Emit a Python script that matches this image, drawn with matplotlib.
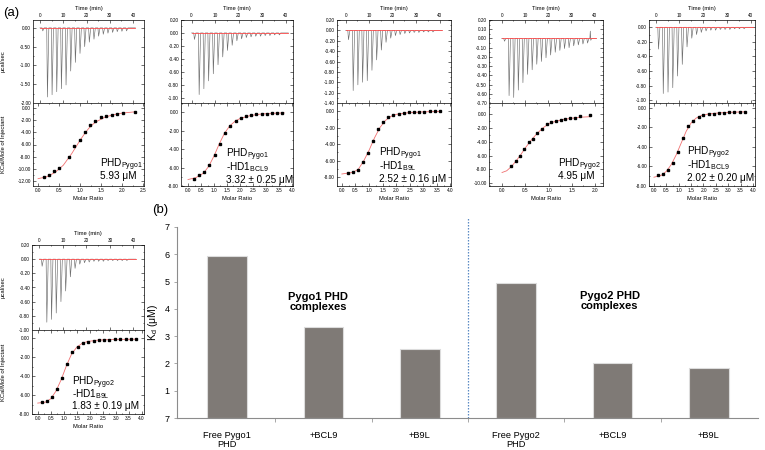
import matplotlib
matplotlib.use("Agg")
import matplotlib.pyplot as plt
from matplotlib.ticker import MultipleLocator, AutoMinorLocator, FormatStrFormatter

plt.rcParams.update({"font.family": "Liberation Sans", "axes.unicode_minus": False,
                     "mathtext.fontset": "custom", "mathtext.rm": "Liberation Sans",
                     "mathtext.it": "Liberation Sans:italic", "mathtext.bf": "Liberation Sans:bold"})

W, H = 765, 450

# ---------------- data: ITC raw traces (peak heights, ucal/sec) ----------------
inj_times = [1, 3, 5, 7, 9, 11, 13, 15, 17, 19, 21, 23, 25, 27, 29, 31, 33, 35, 37]
time_span = [0, 41]

raw1 = [-0.08, -1.84, -1.78, -1.70, -1.62, -1.52, -1.15, -0.92, -0.68, -0.50, -0.38, -0.30, -0.22, -0.17, -0.14, -0.12, -0.10, -0.09, -0.08]
raw2 = [-0.10, -0.95, -0.86, -0.74, -0.63, -0.49, -0.37, -0.27, -0.19, -0.12, -0.09, -0.07, -0.06, -0.05, -0.05, -0.04, -0.04, -0.03, -0.03]
raw3 = [-0.18, -1.16, -1.05, -1.00, -0.97, -0.77, -0.57, -0.38, -0.23, -0.15, -0.10, -0.08, -0.06, -0.05, -0.04, -0.04, -0.03, -0.03, -0.03]
raw4 = [-0.03, -0.62, -0.64, -0.56, -0.48, -0.39, -0.34, -0.28, -0.25, -0.21, -0.18, -0.15, -0.13, -0.11, -0.10, -0.08, -0.07, -0.06, -0.05]
raw5 = [-0.30, -0.91, -0.89, -0.83, -0.67, -0.51, -0.27, -0.15, -0.10, -0.07, -0.05, -0.04, -0.04, -0.03, -0.03, -0.03, -0.02, -0.02, -0.02]
raw6 = [-0.10, -0.89, -0.85, -0.76, -0.60, -0.45, -0.25, -0.13, -0.07, -0.05, -0.04, -0.03, -0.03, -0.03, -0.02, -0.02, -0.02, -0.02, -0.02]
blip4_time = [38.3]
blip4_height = [0.08]

# ---------------- data: integrated heats (kcal/mol) and fits ----------------
ratio1 = [0.13, 0.27, 0.39, 0.50, 0.74, 0.86, 0.99, 1.12, 1.24, 1.36, 1.49, 1.62, 1.75, 1.88, 2.01, 2.30]
heat1 = [-11.4, -11.0, -10.4, -9.9, -8.0, -6.3, -5.2, -4.0, -2.8, -2.2, -1.5, -1.3, -1.2, -1.0, -0.9, -0.6]
fit1_x = [0.0, 0.2, 0.4, 0.6, 0.8, 0.9, 1.0, 1.1, 1.2, 1.3, 1.4, 1.6, 1.8, 2.0, 2.3]
fit1_y = [-11.6, -11.3, -10.6, -9.4, -7.5, -6.4, -5.3, -4.3, -3.4, -2.7, -2.2, -1.5, -1.1, -0.85, -0.65]

ratio2 = [0.22, 0.42, 0.62, 0.82, 1.02, 1.22, 1.42, 1.63, 1.83, 2.03, 2.23, 2.43, 2.63, 2.83, 3.03, 3.23, 3.43, 3.63]
heat2 = [-7.2, -6.85, -6.5, -5.7, -4.65, -3.4, -2.2, -1.5, -0.9, -0.62, -0.46, -0.33, -0.22, -0.18, -0.14, -0.11, -0.08, -0.07]
fit2_x = [0.0, 0.3, 0.6, 0.8, 1.0, 1.2, 1.4, 1.6, 1.8, 2.0, 2.4, 2.8, 3.2, 3.7]
fit2_y = [-7.3, -7.1, -6.6, -5.85, -4.75, -3.45, -2.3, -1.5, -1.0, -0.68, -0.36, -0.2, -0.12, -0.07]

ratio3 = [0.22, 0.40, 0.58, 0.77, 0.95, 1.14, 1.33, 1.52, 1.71, 1.90, 2.09, 2.28, 2.47, 2.66, 2.85, 3.04, 3.23, 3.42, 3.61]
heat3 = [-7.5, -7.35, -7.1, -6.15, -5.05, -3.65, -2.15, -1.3, -0.7, -0.42, -0.3, -0.22, -0.17, -0.13, -0.1, -0.07, -0.05, -0.04, -0.03]
fit3_x = [0.0, 0.4, 0.6, 0.8, 1.0, 1.2, 1.4, 1.6, 1.8, 2.0, 2.4, 3.0, 3.6]
fit3_y = [-7.6, -7.4, -7.05, -6.05, -4.75, -3.25, -2.0, -1.15, -0.65, -0.4, -0.22, -0.1, -0.05]

ratio4 = [0.19, 0.29, 0.38, 0.48, 0.57, 0.67, 0.76, 0.86, 0.96, 1.05, 1.16, 1.26, 1.36, 1.46, 1.56, 1.67, 1.88]
heat4 = [-7.5, -6.8, -6.1, -5.0, -4.1, -3.6, -2.7, -2.2, -1.5, -1.1, -1.0, -0.85, -0.7, -0.6, -0.5, -0.3, -0.15]
fit4_x = [0.0, 0.1, 0.2, 0.3, 0.4, 0.5, 0.6, 0.7, 0.8, 0.9, 1.0, 1.1, 1.3, 1.5, 1.7, 1.9]
fit4_y = [-8.45, -8.2, -7.6, -6.8, -5.9, -4.9, -4.0, -3.2, -2.5, -1.9, -1.45, -1.15, -0.8, -0.6, -0.45, -0.38]

ratio5 = [0.15, 0.35, 0.55, 0.75, 0.97, 1.17, 1.37, 1.58, 1.80, 2.00, 2.21, 2.42, 2.63, 2.83, 3.05, 3.25, 3.46, 3.68]
heat5 = [-6.9, -6.8, -6.35, -5.6, -4.5, -3.1, -1.9, -1.3, -0.95, -0.75, -0.65, -0.58, -0.53, -0.5, -0.47, -0.44, -0.42, -0.4]
fit5_x = [0.0, 0.3, 0.5, 0.7, 0.9, 1.1, 1.3, 1.5, 1.7, 1.9, 2.2, 2.6, 3.0, 3.7]
fit5_y = [-7.1, -6.9, -6.5, -5.8, -4.8, -3.6, -2.4, -1.55, -1.05, -0.8, -0.62, -0.52, -0.46, -0.4]

ratio6 = [0.18, 0.37, 0.54, 0.73, 0.92, 1.12, 1.33, 1.54, 1.74, 1.95, 2.15, 2.36, 2.56, 2.76, 2.97, 3.18, 3.38, 3.59, 3.78]
heat6 = [-6.75, -6.65, -6.2, -5.35, -4.2, -2.7, -1.5, -0.9, -0.56, -0.4, -0.32, -0.25, -0.21, -0.18, -0.15, -0.14, -0.13, -0.13, -0.13]
fit6_x = [0.0, 0.3, 0.5, 0.7, 0.9, 1.1, 1.3, 1.5, 1.7, 1.9, 2.3, 2.8, 3.8]
fit6_y = [-6.85, -6.75, -6.4, -5.6, -4.4, -2.95, -1.7, -0.97, -0.57, -0.37, -0.22, -0.15, -0.12]

notes1 = [r"PHD$_{\mathrm{Pygo1}}$", "5.93 μM"]
notes2 = [r"PHD$_{\mathrm{Pygo1}}$", r"-HD1$_{\mathrm{BCL9}}$", "3.32 ± 0.25 μM"]
notes3 = [r"PHD$_{\mathrm{Pygo1}}$", r"-HD1$_{\mathrm{B9L}}$", "2.52 ± 0.16 μM"]
notes4 = [r"PHD$_{\mathrm{Pygo2}}$", "4.95 μM"]
notes5 = [r"PHD$_{\mathrm{Pygo2}}$", r"-HD1$_{\mathrm{BCL9}}$", "2.02 ± 0.20 μM"]
notes6 = [r"PHD$_{\mathrm{Pygo2}}$", r"-HD1$_{\mathrm{B9L}}$", "1.83 ± 0.19 μM"]

# ---------------- data: Kd bar chart ----------------
kd_categories = ["Free Pygo1\nPHD", "+BCL9", "+B9L", "Free Pygo2\nPHD", "+BCL9", "+B9L"]
kd_values = [5.93, 3.32, 2.52, 4.95, 2.02, 1.83]
kd_ticks = [0, 1, 2, 3, 4, 5, 6, 7]
kd_ticklabels = ["7", "1", "2", "3", "4", "5", "6", "7"]
group_labels = ["Pygo1 PHD\ncomplexes", "Pygo2 PHD\ncomplexes"]

# ---------------- layout (pixels) ----------------
panels = [
    dict(raw=raw1, ratio=ratio1, heat=heat1, fx=fit1_x, fy=fit1_y, notes=notes1,
         box=(33, 144, 20, 103, 186), raw_ylim=(-2.0, 0.21), raw_step=0.5, heat_ylim=(-12.8, 0.8),
         ratio_xlim=(-0.12, 2.52), time_xlim=(-3, 44.7), note_x=100, note_base=[167, 179], ylabels=True),
    dict(raw=raw2, ratio=ratio2, heat=heat2, fx=fit2_x, fy=fit2_y, notes=notes2,
         box=(181, 293, 20, 103, 186), raw_ylim=(-1.08, 0.2), raw_step=0.2, heat_ylim=(-8.0, 1.0),
         ratio_xlim=(-0.27, 4.04), time_xlim=(-4.5, 43), note_x=226, note_base=[157, 170, 183], ylabels=False),
    dict(raw=raw3, ratio=ratio3, heat=heat3, fx=fit3_x, fy=fit3_y, notes=notes3,
         box=(337, 451, 20, 103, 186), raw_ylim=(-1.4, 0.2), raw_step=0.2, heat_ylim=(-9.05, 0.97),
         ratio_xlim=(-0.18, 4.02), time_xlim=(-3.7, 44.9), note_x=379, note_base=[156, 169, 182], ylabels=False),
    dict(raw=raw4, ratio=ratio4, heat=heat4, fx=fit4_x, fy=fit4_y, notes=notes4,
         box=(489, 603, 20, 103, 186), raw_ylim=(-0.7, 0.2), raw_step=0.1, heat_ylim=(-10.4, 1.6),
         ratio_xlim=(-0.28, 2.17), time_xlim=(-5.5, 43.9), note_x=558, note_base=[167, 179], ylabels=False),
    dict(raw=raw5, ratio=ratio5, heat=heat5, fx=fit5_x, fy=fit5_y, notes=notes5,
         box=(649, 755, 20, 103, 186), raw_ylim=(-1.04, 0.1), raw_step=0.2, heat_ylim=(-8.0, 0.5),
         ratio_xlim=(-0.2, 4.08), time_xlim=(-2.8, 41.8), note_x=687, note_base=[155, 168, 181], ylabels=False),
    dict(raw=raw6, ratio=ratio6, heat=heat6, fx=fit6_x, fy=fit6_y, notes=notes6,
         box=(32, 144, 245, 330, 414), raw_ylim=(-1.0, 0.2), raw_step=0.2, heat_ylim=(-8.0, 0.85),
         ratio_xlim=(-0.22, 4.09), time_xlim=(-3.1, 44.5), note_x=72, note_base=[385, 397, 409], ylabels=True),
]

fig = plt.figure(figsize=(W / 100, H / 100), dpi=100)


def add_px_axes(l, r, t, b):
    return fig.add_axes([l / W, 1 - b / H, (r - l) / W, (b - t) / H])


def style_itc(ax):
    for s in ax.spines.values():
        s.set_linewidth(0.5)
    ax.tick_params(which="both", direction="in", top=True, right=True, bottom=True, left=True,
                   labelsize=3.4, width=0.4, pad=1.5)
    ax.tick_params(which="major", length=2)
    ax.tick_params(which="minor", length=1)
    ax.yaxis.set_minor_locator(AutoMinorLocator(2))
    ax.xaxis.set_minor_locator(AutoMinorLocator(2))


for p in panels:
    l, r, t, m, b = p["box"]

    # raw thermogram
    ax1 = add_px_axes(l, r, t, m)
    xs, ys = [time_span[0]], [0]
    for ti, h in zip(inj_times, p["raw"]):
        xs += [ti - 0.1, ti + 0.2, ti + 0.8]
        ys += [0, h, 0]
    if p["raw"] is raw4:
        for ti, h in zip(blip4_time, blip4_height):
            xs += [ti - 0.1, ti + 0.1, ti + 0.3, ti + 0.7]
            ys += [0, h, -0.02, 0]
    xs.append(time_span[1])
    ys.append(0)
    ax1.plot(xs, ys, color="#6e6e6e", lw=0.45)
    ax1.plot(time_span, [0, 0], color="#ff4d4d", lw=0.6)
    ax1.set_xlim(*p["time_xlim"])
    ax1.set_ylim(*p["raw_ylim"])
    ax1.xaxis.set_major_locator(MultipleLocator(10))
    ax1.yaxis.set_major_locator(MultipleLocator(p["raw_step"]))
    ax1.yaxis.set_major_formatter(FormatStrFormatter("%.2f"))
    style_itc(ax1)
    ax1.tick_params(labeltop=True, labelbottom=False)
    ax1.xaxis.set_label_position("top")
    ax1.set_xlabel("Time (min)", fontsize=4.2, labelpad=2)
    if p["ylabels"]:
        ax1.set_ylabel("μcal/sec", fontsize=4.2)
        ax1.yaxis.set_label_coords((6 - l) / (r - l), 0.5)

    # integrated heats
    ax2 = add_px_axes(l, r, m, b)
    ax2.plot(p["fx"], p["fy"], color="#f07070", lw=0.6)
    ax2.plot(p["ratio"], p["heat"], ls="none", marker="s", ms=2.1, color="black")
    ax2.set_xlim(*p["ratio_xlim"])
    ax2.set_ylim(*p["heat_ylim"])
    ax2.xaxis.set_major_locator(MultipleLocator(0.5))
    ax2.xaxis.set_major_formatter(FormatStrFormatter("%.1f"))
    ax2.yaxis.set_major_locator(MultipleLocator(2))
    ax2.yaxis.set_major_formatter(FormatStrFormatter("%.2f"))
    style_itc(ax2)
    ax2.set_xlabel("Molar Ratio", fontsize=4.2, labelpad=2)
    if p["ylabels"]:
        ax2.set_ylabel("KCal/Mole of Injectant", fontsize=4.2)
        ax2.yaxis.set_label_coords((6 - l) / (r - l), 0.5)

    for line, base in zip(p["notes"], p["note_base"]):
        fig.text(p["note_x"] / W, 1 - base / H, line, fontsize=7.2, ha="left", va="baseline")

# ---------------- (b) Kd bar chart ----------------
axb = add_px_axes(177, 758, 227, 418)
pos = list(range(len(kd_values)))
axb.bar(pos, kd_values, width=0.41, color="#7f7a76", edgecolor="#dcdcdc", linewidth=0.8)
axb.set_xlim(-0.52, 5.51)
axb.set_ylim(0, 7)
axb.set_yticks(kd_ticks)
axb.set_yticklabels(kd_ticklabels, fontsize=6.5)
axb.set_xticks(pos)
axb.set_xticklabels(kd_categories, fontsize=6.7, linespacing=1.1)
axb.set_xticks([x + 0.5 for x in pos[:-1]], minor=True)
axb.tick_params(axis="x", which="major", length=0, pad=9)
axb.tick_params(axis="x", which="minor", length=3, color="#999999", width=0.6)
axb.tick_params(axis="y", length=2.5, color="#999999", width=0.6, pad=3)
for side in ["top", "right"]:
    axb.spines[side].set_visible(False)
for side in ["left", "bottom"]:
    axb.spines[side].set_color("#8c8c8c")
    axb.spines[side].set_linewidth(0.8)
axb.set_ylabel(r"K$_{\mathrm{d}}$ (μM)", fontsize=7.5)
axb.yaxis.set_label_coords((160 - 177) / 581, 0.5)
axb.axvline(2.5, ymin=0, ymax=1.05, color="#5b8ac4", lw=0.9, ls=(0, (1.2, 1.2)), clip_on=False)
axb.text(0.243, 0.607, group_labels[0], transform=axb.transAxes, ha="center", va="center",
         fontsize=8, fontweight="bold", linespacing=1.05)
axb.text(0.745, 0.613, group_labels[1], transform=axb.transAxes, ha="center", va="center",
         fontsize=8, fontweight="bold", linespacing=1.05)

fig.text(3 / W, 1 - 13 / H, "(a)", fontsize=9.5, ha="left", va="center")
fig.text(152 / W, 1 - 210 / H, "(b)", fontsize=9.5, ha="left", va="center")

fig.savefig("out.png", dpi=100)
